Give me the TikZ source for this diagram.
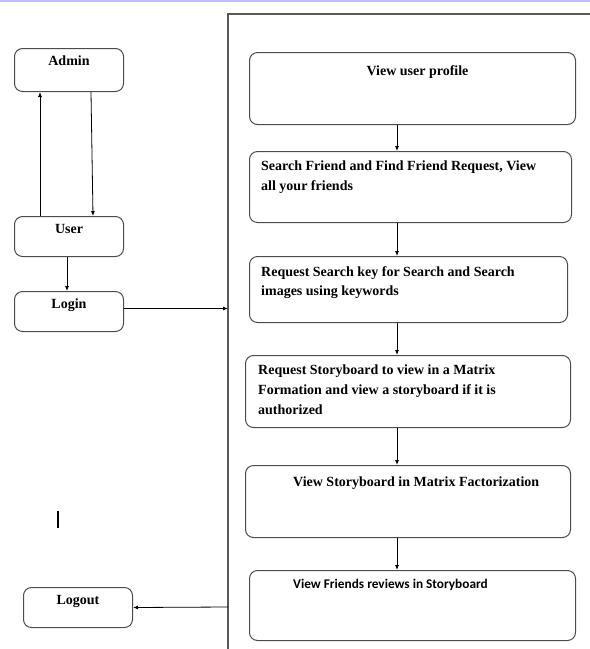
\documentclass[tikz,border=0pt]{standalone}
\usepackage{fontspec}
\setmainfont{Liberation Serif}
\newfontfamily\calfont{Carlito}
\usetikzlibrary{arrows.meta}

\tikzset{
  box/.style={draw=black!70, line width=1pt, rounded corners=8pt, anchor=north west, inner sep=0pt},
  txt/.style={font=\bfseries\fontsize{14}{19.7}\selectfont, align=left, inner sep=0pt},
  link/.style={line width=0.8pt, -{Latex[length=5pt,width=4pt]}}
}

\begin{document}
\begin{tikzpicture}[x=1pt,y=-1pt]
\useasboundingbox (0,0) rectangle (590,649);
\draw[line width=2pt, blue!25] (0,1) -- (590,1);
\draw[line width=1.6pt, black!65] (228,649) |- (590,14);
% left side
\node[box, minimum width=109, minimum height=43, label={[txt, anchor=north, yshift=-8pt]north:Admin}] (admin) at (14,48) {};
\node[box, minimum width=109, minimum height=40, label={[txt, anchor=north, yshift=-8pt]north:User}] (user) at (14,216) {};
\node[box, minimum width=109, minimum height=40, label={[txt, anchor=north, yshift=-8pt]north:Login}] (login) at (14,291) {};
\node[box, minimum width=109, minimum height=40, label={[txt, anchor=north, yshift=-8pt]north:Logout}] (logout) at (23,587) {};
\coordinate (fin) at (228,308);
\coordinate (fout) at (228,607);
\draw[link] (user.north west) ++(26,0) coordinate (u1) -- (u1 |- admin.south);
\draw[link] (admin.south west) ++(77,0) -- ([xshift=79pt]user.north west);
\draw[link] ([xshift=53pt]user.south west) -- ([xshift=53pt]login.north west);
\draw[link] (login.east) ++(0,-3) coordinate (l1) -- (l1 -| fin);
\draw[link] (fout) -- (logout.east);
\draw[line width=1.5pt] (58,511) -- (58,528);
% right side
\node[box, minimum width=326, minimum height=72, label={[txt, anchor=north, xshift=5pt, yshift=-13pt]north:View user profile}] (prof) at (249,52) {};
\node[box, minimum width=322, minimum height=71, label={[txt, anchor=north west, xshift=12pt, yshift=-10pt]north west:Search Friend and Find Friend Request, View\\all your friends}] (friend) at (249,151) {};
\node[box, minimum width=318, minimum height=66, label={[txt, anchor=north west, xshift=12pt, yshift=-10pt]north west:Request Search key for Search and Search\\images using keywords}] (search) at (249,256) {};
\node[box, minimum width=325, minimum height=72, label={[txt, anchor=north west, xshift=13pt, yshift=-10pt]north west:Request Storyboard to view in a Matrix\\Formation and view a storyboard if it is\\authorized}] (request) at (245,355) {};
\node[box, minimum width=325, minimum height=72, label={[txt, anchor=north west, xshift=48pt, yshift=-12pt]north west:View Storyboard in Matrix Factorization}] (matrix) at (245,465) {};
\node[box, minimum width=326, minimum height=70, label={[txt, font=\calfont\bfseries\fontsize{13.3}{15}\selectfont, anchor=north west, xshift=44pt, yshift=-9pt]north west:View Friends reviews in Storyboard}] (review) at (249,570) {};
\foreach \a/\b in {prof/friend, friend/search, search/request, request/matrix, matrix/review}
  \draw[link] (\a.south -| 397,0) -- (\b.north -| 397,0);
\end{tikzpicture}
\end{document}
